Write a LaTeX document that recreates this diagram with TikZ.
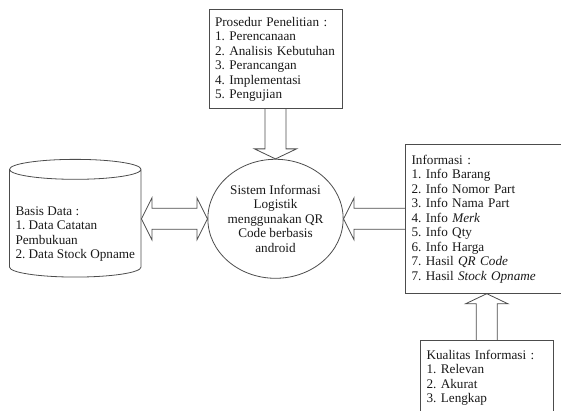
\documentclass[tikz,border=0pt]{standalone}
\usepackage{fontspec}
\setmainfont{Liberation Serif}
\usetikzlibrary{positioning,calc,shapes.geometric}
\tikzset{ibox/.style={draw=black!70, line width=0.8pt, align=left, inner xsep=6pt, inner ysep=0pt, text=black!90, font=\fontsize{13.2}{14.5}\selectfont}}
\tikzset{ibody/.style={ibox, ellipse, align=center, inner sep=0pt, minimum width=132.4pt, minimum height=119pt}}
\tikzset{icyl/.style={ibox, cylinder, shape border rotate=90, aspect=0.167, inner sep=0pt, minimum width=131.5pt, minimum height=117.7pt}}
\tikzset{iarr/.style={draw=black!70, line width=0.8pt, line join=miter}}
\begin{document}
\frenchspacing
\begin{tikzpicture}[x=1pt, y=1pt]
  \clip (0,0) rectangle (561,411);
  \node[ibody] (sys) at (275.5,192.2)
    {Sistem Informasi\\Logistik\\menggunakan QR\\Code berbasis\\android};
  \node[ibox, text width=121pt, minimum height=98.6pt, above=50pt of sys] (proc)
    {Prosedur Penelitian :\\1. Perencanaan\\2. Analisis Kebutuhan\\3. Perancangan\\4. Implementasi\\5. Pengujian};
  \node[icyl, left=66pt of sys, yshift=-4.6pt] (db)
    {\mbox{}\\[15.5pt]Basis Data :\\1. Data Catatan\\Pembukuan\\2. Data Stock Opname};
  \node[ibox, text width=160pt, minimum height=149pt, right=61.6pt of sys] (info)
    {Informasi :\\1. Info Barang\\2. Info Nomor Part\\3. Info Nama Part\\4. Info \textit{Merk}\\5. Info Qty\\6. Info Harga\\7. Hasil \textit{QR Code}\\7. Hasil \textit{Stock Opname}};
  \node[ibox, text width=120.4pt, minimum height=74pt, below right=46.7pt and 15pt of info.south west] (kual)
    {Kualitas Informasi :\\1. Relevan\\2. Akurat\\3. Lengkap};
  %
  \draw[iarr] ($(proc.south)+(-10.5,0)$) -- ($(sys.north)+(-10.5,10)$)
    -- ++(-10.5,0) -- (sys.north) -- ($(sys.north)+(21,10)$)
    -- ++(-10.5,0) -- ($(proc.south)+(10.5,0)$);
  \draw[iarr] (db.east |- sys.west) -- ++(10.5,21) -- ++(0,-10.5)
    -- ($(sys.west)+(-10.5,10.5)$) -- ++(0,10.5) -- (sys.west)
    -- ++(-10.5,-21) -- ++(0,10.5) -- ($(db.east |- sys.west)+(10.5,-10.5)$)
    -- ++(0,-10.5) -- cycle;
  \draw[iarr] ($(info.west)+(0,10.5)$) -- ($(sys.east)+(10.5,10.5)$)
    -- ++(0,10.5) -- (sys.east) -- ++(10.5,-21) -- ++(0,10.5)
    -- ($(info.west)+(0,-10.5)$);
  \draw[iarr] ($(kual.north)+(-10.5,0)$) -- ($(kual.north |- info.south)+(-10.5,-10)$)
    -- ++(-10.5,0) -- (kual.north |- info.south) -- ++(21,-10)
    -- ++(-10.5,0) -- ($(kual.north)+(10.5,0)$);
\end{tikzpicture}
\end{document}
